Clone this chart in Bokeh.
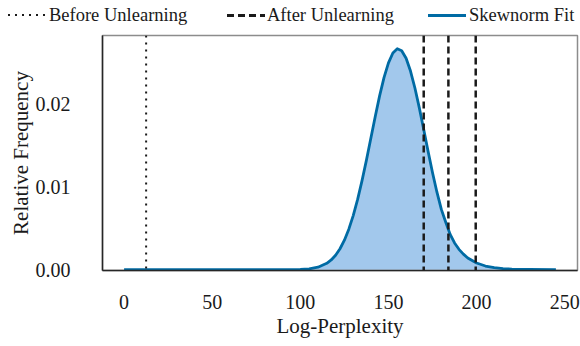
from bokeh.plotting import figure
from bokeh.layouts import column
from bokeh.models import Span, Range1d, FixedTicker, CustomJSTickFormatter, Div
from bokeh.embed import file_html
from bokeh.resources import INLINE

# Skewnorm fit curve
fit_x = [0, 25, 50, 75, 90, 95, 100, 105, 110, 115, 117.5, 120, 122.5, 125, 127.5, 130,
         132.5, 135, 137.5, 140, 142.5, 145, 147.5, 150, 152.5, 155, 157.5, 160, 162.5,
         165, 167.5, 170, 172.5, 175, 177.5, 180, 182.5, 185, 187.5, 190, 192.5, 195,
         200, 205, 210, 215, 220, 230, 245]
fit_y = [0.0, 0.0, 0.0, 0.0, 0.000003, 0.000012, 0.000034, 0.000107, 0.000301, 0.000765,
         0.00117, 0.00174, 0.00252, 0.00355, 0.00488, 0.00651,
         0.00846, 0.01072, 0.01319, 0.01582, 0.01845, 0.02096, 0.02316, 0.02491, 0.02609,
         0.0266, 0.02637, 0.02546, 0.02392,
         0.02188, 0.01948, 0.01688, 0.01423, 0.01168, 0.00933, 0.00726, 0.00571, 0.00425,
         0.00322, 0.00245, 0.00187, 0.00141,
         0.00080, 0.00044, 0.000245, 0.00013, 0.00007, 0.00002, 0.000005]

before_unlearning = [12.5]
after_unlearning = [170.0, 184.0, 199.5]

x_ticks = [0, 50, 100, 150, 200, 250]
y_ticks = [0.0, 0.01, 0.02]
legend_labels = ["Before Unlearning", "After Unlearning", "Skewnorm Fit"]

FONT = "Liberation Serif"
LINE_BLUE = "#006BA4"
FILL_BLUE = "#A2C8EC"
INK = "#1a1a1a"

# ---- main plot
p = figure(width=580, height=319, output_backend="svg", toolbar_location=None,
           x_range=Range1d(-12.25, 257.25), y_range=Range1d(-0.0001, 0.0282))
p.min_border_left = 102
p.min_border_right = 3
p.min_border_top = 8
p.min_border_bottom = 76

p.xgrid.visible = False
p.ygrid.visible = False
p.outline_line_color = "#8c8c8c"
p.outline_line_width = 1.5

p.varea(x=fit_x, y1=0, y2=fit_y, fill_color=FILL_BLUE, fill_alpha=1.0)
p.line(fit_x, fit_y, line_color=LINE_BLUE, line_width=2.8, line_join="round")

for v in before_unlearning:
    p.add_layout(Span(location=v, dimension="height", line_color=INK,
                      line_width=2, line_dash="2 5"))
for v in after_unlearning:
    p.add_layout(Span(location=v, dimension="height", line_color=INK,
                      line_width=2.5, line_dash="7 4"))

for ax in (p.xaxis[0], p.yaxis[0]):
    ax.axis_line_color = "#262626"
    ax.axis_line_width = 1.5
    ax.major_tick_line_color = None
    ax.minor_tick_line_color = None
    ax.major_label_text_font = FONT
    ax.major_label_text_font_size = "20px"
    ax.major_label_text_color = INK
    ax.axis_label_text_font = FONT
    ax.axis_label_text_font_size = "21px"
    ax.axis_label_text_font_style = "normal"
    ax.axis_label_text_color = INK

p.xaxis.ticker = FixedTicker(ticks=x_ticks)
p.yaxis.ticker = FixedTicker(ticks=y_ticks)
p.yaxis.formatter = CustomJSTickFormatter(code="return tick.toFixed(2);")
p.xaxis.axis_label = "Log-Perplexity"
p.yaxis.axis_label = "Relative Frequency"
p.xaxis.major_label_standoff = 18
p.yaxis.major_label_standoff = 26
p.xaxis.axis_label_standoff = 2
p.yaxis.axis_label_standoff = 0

# ---- legend strip above the plot (HTML, glyph swatches drawn with CSS)
dot_css = f"repeating-linear-gradient(to right, {INK} 0 2px, transparent 2px 7px)"
dash_css = f"repeating-linear-gradient(to right, {INK} 0 7px, transparent 7px 11px)"
swatches = [(8, 49, dot_css, 2), (227, 267, dash_css, 3), (428, 469, LINE_BLUE, 3)]
parts = []
for (gx, tx, bg, h), lab in zip(swatches, legend_labels):
    parts.append(f'<div style="position:absolute;left:{gx}px;top:{15 - h // 2}px;'
                 f'width:38px;height:{h}px;background:{bg};"></div>')
    parts.append(f'<div style="position:absolute;left:{tx}px;top:3px;line-height:24px;'
                 f'white-space:nowrap;">{lab}</div>')
html = (f'<div style="position:relative;width:580px;height:27px;font-family:\'{FONT}\';'
        f'font-size:18.5px;color:{INK};">' + "".join(parts) + '</div>')
lg = Div(text=html, width=580, height=27, margin=0)

layout = column(lg, p, spacing=0)
open("out.html", "w").write(file_html(layout, INLINE))
